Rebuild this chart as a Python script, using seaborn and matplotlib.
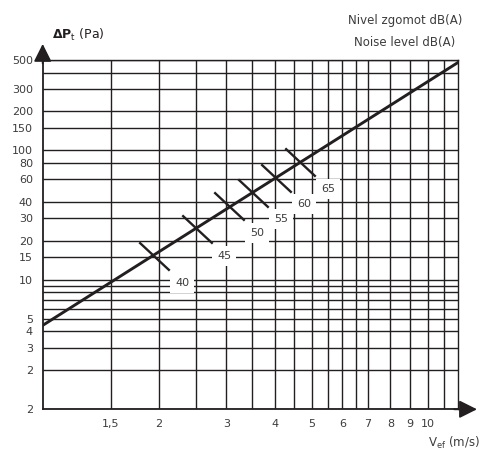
import matplotlib
matplotlib.use("Agg")
import matplotlib.pyplot as plt
from matplotlib.path import Path
from matplotlib.ticker import FixedLocator, NullFormatter
import seaborn as sns

# pressure drop line (log-log)
v_line = [1, 12]
dp_line = [4.45, 480]

# noise level marks along the line
db_labels = ["40", "45", "50", "55", "60", "65"]
v_db = [1.95, 2.51, 3.05, 3.52, 4.04, 4.67]
dp_db = [15.2, 24.5, 37.0, 47.0, 61.3, 80.8]

# axis ticks
x_ticks = [1.5, 2, 3, 4, 5, 6, 7, 8, 9, 10]
x_ticklabels = ["1,5", "2", "3", "4", "5", "6", "7", "8", "9", "10"]
x_minor = [2.5, 3.5, 4.5, 5.5, 6.5, 11]
y_ticks = [1, 2, 3, 4, 5, 10, 15, 20, 30, 40, 60, 80, 100, 150, 200, 300, 500]
y_ticklabels = ["2", "2", "3", "4", "5", "10", "15", "20", "30", "40", "60", "80",
                "100", "150", "200", "300", "500"]
y_minor = [6, 7, 8, 9, 400]

ink = "#231f20"
txt = "#3c3c3c"

sns.set_theme(style="white")
plt.rcParams["font.family"] = ["DejaVu Sans"]

fig = plt.figure(figsize=(4.84, 4.51), dpi=100)
ax = fig.add_axes([0.0882, 0.0925, 0.8587, 0.7745])

sns.lineplot(x=v_line, y=dp_line, ax=ax, color=ink, lw=2.1, zorder=4)

tick_mark = Path([(-1, 0.93), (1, -0.93)])
sns.scatterplot(x=v_db, y=dp_db, ax=ax, marker=tick_mark, s=480,
                color=ink, edgecolor=ink, linewidth=1.7, zorder=5)

for lab, xv, yv in zip(db_labels, v_db, dp_db):
    ax.annotate(lab, (xv, yv), xytext=(20, -19), textcoords="offset points",
                ha="center", va="center", fontsize=8, color=txt, zorder=6,
                bbox=dict(boxstyle="square,pad=0.45", fc="white", ec="none"))

ax.set_xscale("log")
ax.set_yscale("log")
ax.set_xlim(1, 12)
ax.set_ylim(1, 500)

ax.xaxis.set_major_locator(FixedLocator(x_ticks))
ax.set_xticklabels(x_ticklabels)
ax.xaxis.set_minor_locator(FixedLocator(x_minor))
ax.xaxis.set_minor_formatter(NullFormatter())
ax.yaxis.set_major_locator(FixedLocator(y_ticks))
ax.set_yticklabels(y_ticklabels)
ax.yaxis.set_minor_locator(FixedLocator(y_minor))
ax.yaxis.set_minor_formatter(NullFormatter())

ax.tick_params(which="both", length=0, labelsize=8, labelcolor=txt)
ax.tick_params(axis="x", pad=7)
ax.tick_params(axis="y", pad=7)
ax.grid(which="both", color=ink, lw=1.0)
ax.set_xlabel("")
ax.set_ylabel("")

for side in ["left", "bottom", "top", "right"]:
    ax.spines[side].set_color(ink)
    ax.spines[side].set_linewidth(1.0)
ax.spines["left"].set_linewidth(1.3)
ax.spines["bottom"].set_linewidth(1.3)

# axis arrows
arrow = dict(arrowstyle="-|>,head_length=0.9,head_width=0.45", color=ink, lw=1.3,
             shrinkA=0, shrinkB=0)
ax.annotate("", xy=(0, 1.046), xytext=(0, 0.99), xycoords="axes fraction",
            arrowprops=arrow, annotation_clip=False)
ax.annotate("", xy=(1.045, 0), xytext=(0.99, 0), xycoords="axes fraction",
            arrowprops=arrow, annotation_clip=False)

fig.text(0.107, 0.922, r"$\mathbf{\Delta P}_{\mathrm{t}}$ (Pa)", fontsize=9,
         color=ink, ha="left", va="center")
fig.text(0.837, 0.954, "Nivel zgomot dB(A)", fontsize=8.5, color=txt,
         ha="center", va="center")
fig.text(0.837, 0.905, "Noise level dB(A)", fontsize=8.5, color=txt,
         ha="center", va="center")
fig.text(0.885, 0.018, r"V$_{\mathrm{ef}}$ (m/s)", fontsize=8.5, color=txt,
         ha="left", va="center")

fig.savefig("out.png", dpi=100)
